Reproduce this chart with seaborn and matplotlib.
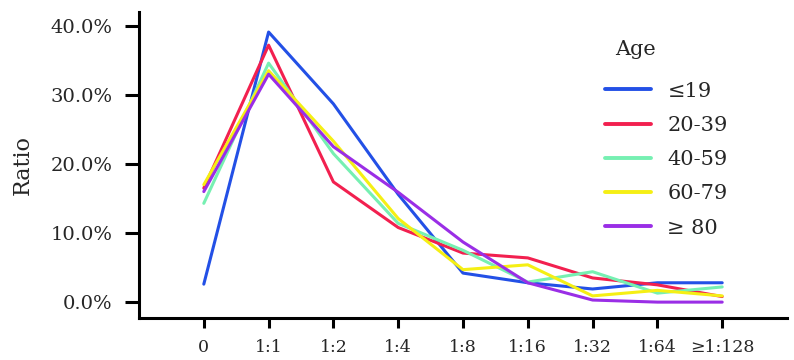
import matplotlib
matplotlib.use("Agg")
import matplotlib.pyplot as plt
import seaborn as sns
import pandas as pd
from matplotlib.ticker import FuncFormatter

categories = ["0", "1:1", "1:2", "1:4", "1:8", "1:16", "1:32", "1:64", "≥1:128"]
age_groups = ["≤19", "20-39", "40-59", "60-79", "≥ 80"]
le19 = [2.6, 39.1, 28.7, 15.6, 4.2, 2.8, 1.9, 2.8, 2.8]
a20_39 = [16.5, 37.2, 17.4, 10.8, 7.1, 6.4, 3.5, 2.5, 0.8]
a40_59 = [14.3, 34.6, 21.5, 11.4, 7.5, 2.9, 4.4, 1.3, 2.2]
a60_79 = [17.0, 33.5, 23.3, 12.1, 4.7, 5.4, 0.9, 1.7, 0.9]
ge80 = [16.0, 33.0, 22.5, 15.9, 8.7, 2.8, 0.3, 0.0, 0.0]
series = [le19, a20_39, a40_59, a60_79, ge80]
colors = ["#2350e6", "#f2204f", "#76f0b2", "#f5ef14", "#9a2ee6"]

rows = []
for g, vals in zip(age_groups, series):
    for i, (c, v) in enumerate(zip(categories, vals)):
        rows.append({"Titer": i, "Ratio": v, "Age": g})
df = pd.DataFrame(rows)

sns.set_theme(style="white")
plt.rcParams["font.family"] = ["DejaVu Serif", "DejaVu Sans"]

fig = plt.figure(figsize=(7.94, 3.6), dpi=100)
ax = fig.add_axes([139/794, 1-318/360, (787-139)/794, (318-12)/360])
sns.lineplot(data=df, x="Titer", y="Ratio", hue="Age", hue_order=age_groups,
             palette=dict(zip(age_groups, colors)), linewidth=2.2, ax=ax)

ax.set_xlim(-1, 9)
ax.set_ylim(-2.3, 42)
ax.set_xticks(range(len(categories)))
ax.set_xticklabels(categories)
ax.set_yticks([0, 10, 20, 30, 40])
ax.yaxis.set_major_formatter(FuncFormatter(lambda v, p: f"{v:.1f}%"))
ax.set_xlabel("")
ax.set_ylabel("Ratio", fontsize=16, labelpad=12)
for s in ["top", "right"]:
    ax.spines[s].set_visible(False)
for s in ["left", "bottom"]:
    ax.spines[s].set_color("black")
    ax.spines[s].set_linewidth(2.2)
ax.tick_params(axis="y", direction="out", length=10, width=2.2, color="black",
               labelsize=14, pad=9, left=True)
ax.tick_params(axis="x", direction="out", length=7, width=2.2, color="black",
               labelsize=12.5, pad=8, bottom=True)

leg = ax.legend(title="Age", frameon=False, loc="upper left",
                bbox_to_anchor=(0.69, 0.945), fontsize=15, title_fontsize=15,
                handlelength=2.2, labelspacing=0.73, handletextpad=0.8)
leg._legend_box.align = "left"
leg.get_title().set_position((10, 8))
for line in leg.get_lines():
    line.set_linewidth(2.8)

fig.savefig("out.png", dpi=100)
